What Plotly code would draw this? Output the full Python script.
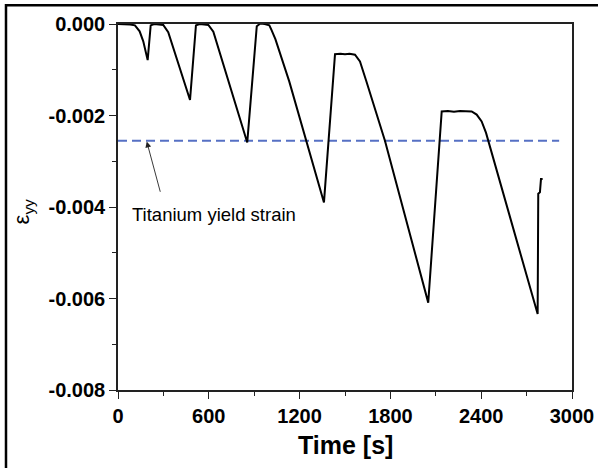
import plotly.graph_objects as go

# Measured strain history (time in s, strain eps_yy)
time_s = [0, 40, 80, 112, 143, 167, 196, 216, 240, 270, 299, 332, 400, 476,
          515, 540, 570, 597, 630, 740, 854, 917, 940, 970, 1000, 1014, 1040,
          1132, 1250, 1361, 1434, 1470, 1500, 1530, 1566, 1599, 1640, 1698,
          1764, 2050, 2139, 2180, 2220, 2260, 2300, 2337, 2370, 2403, 2432,
          2600, 2773, 2777, 2788, 2795, 2806]
strain = [0, 0, -0.00001, -0.00003, -0.00016, -0.00038, -0.00079, -0.00003,
          0, -0.00001, -0.00002, -0.00018, -0.00088, -0.00166,
          -0.00003, 0, -0.00001, -0.00002, -0.00017, -0.00136, -0.00259,
          -0.00005, 0.00001, 0, -0.00003, -0.00013, -0.00033,
          -0.00126, -0.00262, -0.0039, -0.00066, -0.00065, -0.00066, -0.00065,
          -0.00067, -0.00082, -0.00124, -0.00184,
          -0.00255, -0.00609, -0.00191, -0.00190, -0.00192, -0.00190, -0.00191,
          -0.00191, -0.00198, -0.00213, -0.00238,
          -0.00433, -0.00634, -0.00371, -0.00368, -0.00339, -0.00339]

yield_time = [0, 2915]
yield_strain = [-0.00255, -0.00255]

x_ticks = [0, 600, 1200, 1800, 2400, 3000]
x_labels = ["0", "600", "1200", "1800", "2400", "3000"]
y_ticks = [0, -0.002, -0.004, -0.006, -0.008]
y_labels = ["0.000", "-0.002", "-0.004", "-0.006", "-0.008"]

FONT = "Liberation Sans, Arial, sans-serif"

fig = go.Figure()
fig.add_trace(go.Scatter(x=yield_time, y=yield_strain, mode="lines",
                         line=dict(color="#5670c4", width=2, dash="9px,5px"),
                         showlegend=False, hoverinfo="skip"))
fig.add_trace(go.Scatter(x=time_s, y=strain, mode="lines",
                         line=dict(color="black", width=2),
                         showlegend=False))

axis_common = dict(showgrid=False, zeroline=False, showline=True,
                   linecolor="#222", linewidth=1.5, mirror=True,
                   ticks="outside", ticklen=7, tickwidth=1.3, tickcolor="#222",
                   automargin=False,
                   tickfont=dict(family=FONT, size=20, color="black", weight="bold"))

fig.update_xaxes(range=[0, 3000], tickvals=x_ticks, ticktext=x_labels,
                 minor=dict(dtick=300, ticks="outside", ticklen=4, tickwidth=1.3,
                            tickcolor="#222"),
                 **axis_common)
fig.update_yaxes(range=[-0.008, 0], tickvals=y_ticks, ticktext=y_labels,
                 minor=dict(dtick=0.001, ticks="outside", ticklen=4, tickwidth=1.3,
                            tickcolor="#222"),
                 **axis_common)

fig.add_annotation(x=190, y=-0.00257, ax=282, ay=-0.0037,
                   xref="x", yref="y", axref="x", ayref="y",
                   text="", showarrow=True, arrowhead=2, arrowsize=1.3,
                   arrowwidth=0.9, arrowcolor="#222")
fig.add_annotation(x=79, y=-0.00417, xref="x", yref="y", xanchor="left",
                   yanchor="middle", showarrow=False,
                   text="Titanium yield strain",
                   font=dict(family=FONT, size=18.5, color="black"))
fig.add_annotation(x=0.5, y=-0.15, xref="paper", yref="paper", showarrow=False,
                   text="Time [s]", xanchor="center", yanchor="middle",
                   font=dict(family=FONT, size=25, color="black", weight="bold"))
fig.add_annotation(x=-0.21, y=0.487, xref="paper", yref="paper", showarrow=False,
                   text="ε<sub>yy</sub>", textangle=-90, xanchor="center",
                   yanchor="middle",
                   font=dict(family=FONT, size=22, color="black"))

# outer frame around the figure
fig.add_shape(type="rect", xref="paper", yref="paper",
              x0=-0.2467, x1=1.062, y0=-0.23, y1=1.0514,
              line=dict(color="black", width=2.5), fillcolor="rgba(0,0,0,0)")

fig.update_layout(width=598, height=468,
                  margin=dict(l=118, r=26, t=24, b=78),
                  paper_bgcolor="white", plot_bgcolor="white")

fig.write_html("out.html", config={"displayModeBar": False},
               post_script="document.body.style.margin='0';"
                           "document.body.style.overflow='hidden';")
